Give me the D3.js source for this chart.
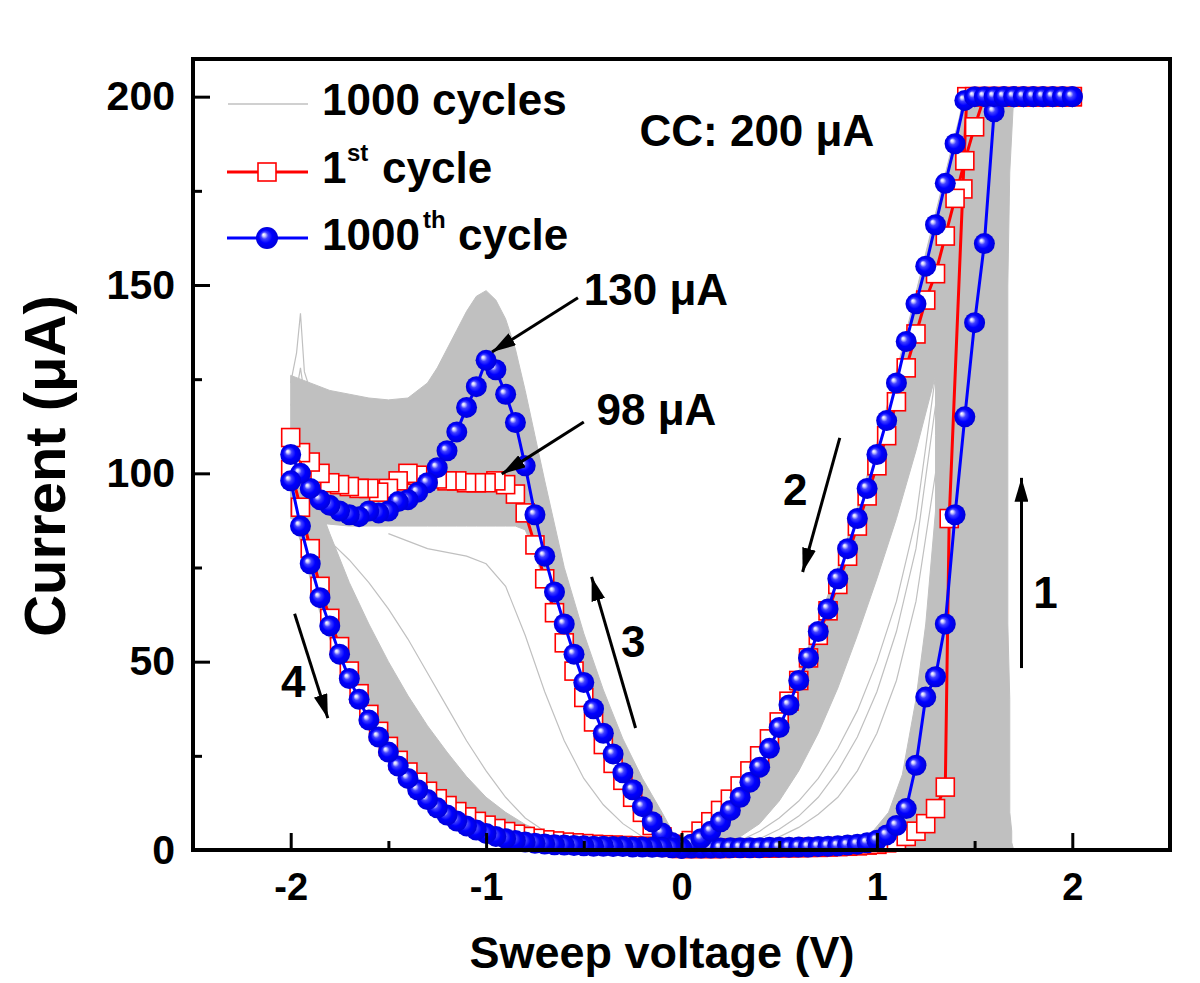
<!DOCTYPE html>
<html><head><meta charset="utf-8">
<script src="https://cdn.jsdelivr.net/npm/d3@7"></script>
<style>
html,body{margin:0;padding:0;background:#fff;}
svg{display:block;}
text{font-family:"Liberation Sans", Arial, sans-serif;font-weight:bold;fill:#000;}
</style></head><body>
<svg id="chart" width="1200" height="983"></svg>
<script>
// ---------------- DATA ----------------
const vPos = [0,0.05,0.1,0.15,0.2,0.25,0.3,0.35,0.4,0.45,0.5,0.55,0.6,0.65,0.7,0.75,0.8,0.85,0.9,0.95,1,1.05,1.1,1.15,1.2,1.25,1.3,1.35,1.4,1.45,1.5,1.55,1.6,1.65,1.7,1.75,1.8,1.85,1.9,1.95,2];
const vNeg = [0,-0.05,-0.1,-0.15,-0.2,-0.25,-0.3,-0.35,-0.4,-0.45,-0.5,-0.55,-0.6,-0.65,-0.7,-0.75,-0.8,-0.85,-0.9,-0.95,-1,-1.05,-1.1,-1.15,-1.2,-1.25,-1.3,-1.35,-1.4,-1.45,-1.5,-1.55,-1.6,-1.65,-1.7,-1.75,-1.8,-1.85,-1.9,-1.95,-2];

// 1000th cycle (blue)
const blueSweep1 = [0.5,0.5,0.5,0.5,0.5,0.6,0.6,0.6,0.6,0.7,0.7,0.7,0.8,0.8,0.9,1.0,1.1,1.3,1.5,1.9,2.6,4.0,6.5,11,22.5,40.6,46,60,89,115,140,161,196,200,200,200,200,200,200,200,200];
const blueSweep2 = [0.5,1.5,3,5,7.5,10.5,14,18,22,27,32.5,38.5,45,51,58,64,72,80,88,96,105,114,124,135,145,155,166,177,187.5,199,200,200,200,200,200,200,200,200,200,200,200];
const blueSweep3 = [0.5,2,4.5,7.5,11.5,16,20.5,25.5,31,37.5,44.5,52,60,68.5,78,89,102,113.5,121,127.5,130,123,117.5,111,106,101.5,97.5,95,93,92.5,90,89.5,90,88.5,89,90,91.5,93,96,100,105];
const blueSweep4 = [0.5,0.6,0.7,0.7,0.8,0.8,0.9,0.9,1.0,1.0,1.1,1.2,1.3,1.4,1.6,1.8,2.1,2.5,3.0,3.6,4.4,5.3,6.4,7.7,9.3,11.2,13.4,16,19,22.3,26,30,34.5,40,45.5,52,59.5,67,76,86,98];

// 1st cycle (red)
const redSweep1V = [0,0.05,0.1,0.15,0.2,0.25,0.3,0.35,0.4,0.45,0.5,0.55,0.6,0.65,0.7,0.75,0.8,0.85,0.9,0.95,1,1.05,1.1,1.15,1.2,1.25,1.3,1.35,1.37,1.44,1.46,1.5,1.55,1.6,1.65,1.7,1.75,1.8,1.85,1.9,1.95,2];
const redSweep1 = [0.4,0.4,0.4,0.4,0.4,0.5,0.5,0.5,0.5,0.5,0.6,0.6,0.6,0.7,0.7,0.8,0.9,1.0,1.1,1.3,1.5,1.9,2.6,3.6,5.0,7.0,11,16.7,88,175.5,200,200,200,200,200,200,200,200,200,200,200,200];
const redSweep2 = [0.5,2.5,5,7.5,10.5,13.5,17,21,25,29.5,34,39.5,45,51,57,63.5,70.5,78,86,94,102,110,119,128,137,146,153,163,173,183,192,200,200,200,200,200,200,200,200,200,200];
const redSweep3 = [0.5,1.5,3.5,6.5,10,14,18.5,23,28,34,40.5,47.5,55,63,72,81,89.5,94.5,97,98,97.5,97.5,97.5,98,98,98.5,99,99.5,100,98,96,95,96,96,96.5,97,97.5,100,103,105.5,109.5];
const redSweep4 = [0.5,0.7,0.8,0.9,1.0,1.1,1.2,1.3,1.4,1.5,1.7,1.9,2.1,2.4,2.7,3.1,3.6,4.2,4.9,5.7,6.6,7.6,8.8,10.2,11.8,13.6,15.6,18,20.7,23.8,27.5,31.5,36,41.5,47.5,54,61.5,70,80,91,101];

// 1000 cycles (gray bundle) envelopes
const bandSetI  = [0,2,5,10,20,40,60,90,110,130,150,180,200];
const bandSetLo = [0.82,0.9,0.98,1.06,1.13,1.2,1.25,1.3,1.3,1.3,1.32,1.38,1.44];
const bandSetHi = [1.7,1.69,1.69,1.68,1.68,1.68,1.67,1.67,1.67,1.67,1.67,1.68,1.7];

const bandDownV  = [0,0.1,0.2,0.3,0.4,0.5,0.6,0.7,0.8,0.9,1.0,1.1,1.2,1.3,1.4,1.45,1.5,1.55,1.6,1.66];
const bandDownHi = [0.5,4,9,16,24.5,35,47.5,60.5,75,91,108,127,148,169,190,200,200,200,200,200];
const bandDownLo = [0,0.5,1.5,3.5,7,13,21,31,43,57,72,88,106,126,148,160,172,186,198,200];

const bandResetV  = [0,-0.1,-0.2,-0.3,-0.4,-0.5,-0.6,-0.7,-0.75,-0.8,-0.85,-0.9,-0.95,-1.0,-1.05,-1.1,-1.15,-1.2,-1.25,-1.3,-1.4,-1.5,-1.6,-1.7,-1.8,-1.9,-2.0];
const bandResetHi = [0.5,10,19,29.5,42.5,57.5,75,98,110,122,133,141,146,148.5,147,143,138,133,128,124,120,119.5,120,121,122,124,126];
const bandResetLo = [0,3,9.5,17.5,27,39,53,70,79,85,86,86,86,86,86,86,86,86,86,86,86,86,86,86,86.5,87,88];

const bandBackV  = [-2.0,-1.95,-1.9,-1.85,-1.8,-1.7,-1.6,-1.5,-1.4,-1.3,-1.2,-1.1,-1.0,-0.9,-0.8,-0.7,-0.6,-0.5,-0.4,-0.3,-0.2,-0.1,0];
const bandBackHi = [110,104,98,91,84,71,60,50,41,33,26,19.5,14,10,6.8,4.5,3,2,1.4,1.0,0.8,0.6,0.5];
const bandBackLo = [90,82,72,63,56,43,32.5,24.5,18,12.5,9,6,4,2.7,1.9,1.4,1.1,0.9,0.8,0.7,0.6,0.5,0.5];

// individual outlying gray cycles
const spikeV  = [-2.0,-1.97,-1.95,-1.93,-1.9];
const spikeI1 = [124,132,142.5,127,122];
const spikeI2 = [118,122,128,121,119];
const lowResetV  = [0,-0.1,-0.2,-0.3,-0.4,-0.5,-0.6,-0.7,-0.8,-0.9,-1.0,-1.1,-1.2,-1.3,-1.4,-1.5];
const lowResetI1 = [0.5,1.5,3.5,7,12,19,29,42,57,70,76,78,79,80,82,84];
const slowBackV = [-1.9,-1.8,-1.7,-1.6,-1.5,-1.4,-1.3,-1.2,-1.1,-1.0,-0.9,-0.8,-0.7,-0.6];
const slowBackI = [86,82,77,71,64,56,47,38,29,21,14,8.5,5,2.8];
const slowDownV  = [0.3,0.4,0.5,0.6,0.7,0.8,0.9,1.0,1.1,1.2,1.3];
const slowDownI1 = [2.5,5,8.5,13,19,27,37,50,66,88,126];
const slowDownI2 = [1.5,3,5.5,9,14,21,30,42,58,80,118];
const slowDownI3 = [1,2,3.5,6,9.5,14,21,31,45,66,100];

// axes
const xMajor = [-2,-1,0,1,2];
const xMajorLabels = ["-2","-1","0","1","2"];
const xMinor = [-1.5,-0.5,0.5,1.5];
const yMajor = [0,50,100,150,200];
const yMajorLabels = ["0","50","100","150","200"];
const yMinor = [25,75,125,175];

// annotations (data units)
const arrowFrom = [[1.74,48.3],[0.81,109.4],[-0.235,32.4],[-1.98,62.7],[-0.53,146.6],[-0.5,113.6]];
const arrowTo   = [[1.74,98.8],[0.62,73.8],[-0.46,72.5],[-1.81,35.0],[-0.97,132.2],[-0.92,99.8]];
const noteText = ["1","2","3","4","130 \u03bcA","98 \u03bcA","CC: 200 \u03bcA"];
const notePos  = [[1.80,64.3],[0.52,91.6],[-0.31,51.2],[-2.05,40.6],[-0.50,144.7],[-0.435,112.9],[-0.215,187]];

// ---------------- DRAW ----------------
const plot = {left:193,right:1170,top:59,bottom:850};
const x = d3.scaleLinear().domain([-2.5,2.5]).range([plot.left,plot.right]);
const y = d3.scaleLinear().domain([0,210]).range([plot.bottom,plot.top]);
const svg = d3.select("#chart");
const defs = svg.append("defs");

const grad = defs.append("radialGradient").attr("id","sph")
  .attr("cx","50%").attr("cy","50%").attr("r","50%").attr("fx","34%").attr("fy","34%");
[[0,"#ffffff"],[0.13,"#d0d0ff"],[0.32,"#4040ff"],[0.6,"#0000ff"],[1,"#0000d8"]]
  .forEach(s=>grad.append("stop").attr("offset",s[0]).attr("stop-color",s[1]));

defs.append("marker").attr("id","arr").attr("markerUnits","userSpaceOnUse")
  .attr("markerWidth",26).attr("markerHeight",14).attr("refX",24).attr("refY",7)
  .attr("orient","auto")
  .append("path").attr("d","M0,0 L24,7 L0,14 Z").attr("fill","#000");

const GRAY = "#c0c0c0";
const g = svg.append("g");
const line = d3.line().x(d=>x(d[0])).y(d=>y(d[1]));
const poly = d3.line().x(d=>d[0]).y(d=>d[1]);

// gray bundle: envelopes drawn as closed polygons
function bandV(V, lo, hi){
  const pts = V.map((v,i)=>[x(v),y(lo[i])]).concat(V.map((v,i)=>[x(v),y(hi[i])]).reverse());
  g.append("path").attr("d",poly(pts)+"Z").attr("fill",GRAY).attr("stroke",GRAY).attr("stroke-width",1);
}
function bandI(I, lo, hi){
  const pts = I.map((c,i)=>[x(lo[i]),y(c)]).concat(I.map((c,i)=>[x(hi[i]),y(c)]).reverse());
  g.append("path").attr("d",poly(pts)+"Z").attr("fill",GRAY).attr("stroke",GRAY).attr("stroke-width",1);
}
bandI(bandSetI, bandSetLo, bandSetHi);
bandV(bandDownV, bandDownLo, bandDownHi);
bandV(bandResetV, bandResetLo, bandResetHi);
bandV(bandBackV, bandBackLo, bandBackHi);

[[spikeV,spikeI1],[spikeV,spikeI2],[lowResetV,lowResetI1],[slowBackV,slowBackI],[slowDownV,slowDownI1],[slowDownV,slowDownI2],[slowDownV,slowDownI3]]
  .forEach(l=>g.append("path").datum(d3.zip(l[0],l[1])).attr("d",line)
    .attr("fill","none").attr("stroke",GRAY).attr("stroke-width",1.2));

// 1st cycle (red)
const redSegs = [d3.zip(redSweep1V,redSweep1), d3.zip(vPos,redSweep2), d3.zip(vNeg,redSweep3), d3.zip(vNeg,redSweep4)];
redSegs.forEach(s=>g.append("path").datum(s).attr("d",line)
  .attr("fill","none").attr("stroke","#ff0000").attr("stroke-width",3).attr("stroke-linejoin","round"));
const SQ = 18;
redSegs.forEach(s=>g.append("g").selectAll("rect").data(s).join("rect")
  .attr("x",d=>x(d[0])-SQ/2).attr("y",d=>y(d[1])-SQ/2).attr("width",SQ).attr("height",SQ)
  .attr("fill","#fff").attr("stroke","#ff0000").attr("stroke-width",1.6));

// 1000th cycle (blue)
const blueSegs = [d3.zip(vPos,blueSweep1), d3.zip(vPos,blueSweep2), d3.zip(vNeg,blueSweep3), d3.zip(vNeg,blueSweep4)];
blueSegs.forEach(s=>g.append("path").datum(s).attr("d",line)
  .attr("fill","none").attr("stroke","#0000ff").attr("stroke-width",3).attr("stroke-linejoin","round"));
blueSegs.forEach(s=>g.append("g").selectAll("circle").data(s).join("circle")
  .attr("cx",d=>x(d[0])).attr("cy",d=>y(d[1])).attr("r",10.5).attr("fill","url(#sph)"));

// axes
function styleAxis(sel){
  sel.select(".domain").remove();
  sel.selectAll(".tick line").attr("stroke","#000").attr("stroke-width",3);
}
const xAx = svg.append("g").attr("transform",`translate(0,${plot.bottom})`)
  .call(d3.axisBottom(x).tickValues(xMajor).tickFormat((d,i)=>xMajorLabels[i]).tickSize(-17).tickSizeOuter(0).tickPadding(23));
styleAxis(xAx);
xAx.selectAll("text").attr("font-size",38).attr("font-family",'"Liberation Sans", Arial, sans-serif').attr("font-weight","bold");
const xAxm = svg.append("g").attr("transform",`translate(0,${plot.bottom})`)
  .call(d3.axisBottom(x).tickValues(xMinor).tickFormat("").tickSize(-9).tickSizeOuter(0));
styleAxis(xAxm);
const yAx = svg.append("g").attr("transform",`translate(${plot.left},0)`)
  .call(d3.axisLeft(y).tickValues(yMajor).tickFormat((d,i)=>yMajorLabels[i]).tickSize(-17).tickSizeOuter(0).tickPadding(18));
styleAxis(yAx);
yAx.selectAll("text").attr("font-size",41).attr("font-family",'"Liberation Sans", Arial, sans-serif').attr("font-weight","bold");
const yAxm = svg.append("g").attr("transform",`translate(${plot.left},0)`)
  .call(d3.axisLeft(y).tickValues(yMinor).tickFormat("").tickSize(-9).tickSizeOuter(0));
styleAxis(yAxm);

// frame
svg.append("rect").attr("x",plot.left).attr("y",plot.top)
  .attr("width",plot.right-plot.left).attr("height",plot.bottom-plot.top)
  .attr("fill","none").attr("stroke","#000").attr("stroke-width",4);

// axis titles
svg.append("text").attr("x",662).attr("y",968).attr("text-anchor","middle")
  .attr("font-size",45).text("Sweep voltage (V)");
svg.append("text").attr("transform","translate(65,466) rotate(-90)").attr("text-anchor","middle")
  .attr("font-size",58).text("Current (\u03bcA)");

// annotations
arrowFrom.forEach((a,i)=>svg.append("line")
  .attr("x1",x(a[0])).attr("y1",y(a[1])).attr("x2",x(arrowTo[i][0])).attr("y2",y(arrowTo[i][1]))
  .attr("stroke","#000").attr("stroke-width",3).attr("marker-end","url(#arr)"));
noteText.forEach((t,i)=>svg.append("text").attr("x",x(notePos[i][0])).attr("y",y(notePos[i][1]))
  .attr("font-size",44).text(t));

// legend
const lg = svg.append("g");
lg.append("line").attr("x1",228).attr("x2",308).attr("y1",104).attr("y2",104).attr("stroke",GRAY).attr("stroke-width",1.5);
lg.append("text").attr("x",322).attr("y",115).attr("font-size",44).text("1000 cycles");
lg.append("line").attr("x1",227).attr("x2",308).attr("y1",172).attr("y2",172).attr("stroke","#ff0000").attr("stroke-width",3);
lg.append("rect").attr("x",267-SQ/2).attr("y",172-SQ/2).attr("width",SQ).attr("height",SQ).attr("fill","#fff").attr("stroke","#ff0000").attr("stroke-width",1.6);
const t1 = lg.append("text").attr("font-size",44);
t1.append("tspan").attr("x",322).attr("y",183).text("1");
t1.append("tspan").attr("x",347).attr("y",161).attr("font-size",24).text("st");
t1.append("tspan").attr("x",382).attr("y",183).text("cycle");
lg.append("line").attr("x1",227).attr("x2",308).attr("y1",238).attr("y2",238).attr("stroke","#0000ff").attr("stroke-width",3);
lg.append("circle").attr("cx",267).attr("cy",238).attr("r",11).attr("fill","url(#sph)");
const t2 = lg.append("text").attr("font-size",44);
t2.append("tspan").attr("x",322).attr("y",250).text("1000");
t2.append("tspan").attr("x",423).attr("y",228).attr("font-size",24).text("th");
t2.append("tspan").attr("x",458).attr("y",250).text("cycle");
</script>
</body></html>
